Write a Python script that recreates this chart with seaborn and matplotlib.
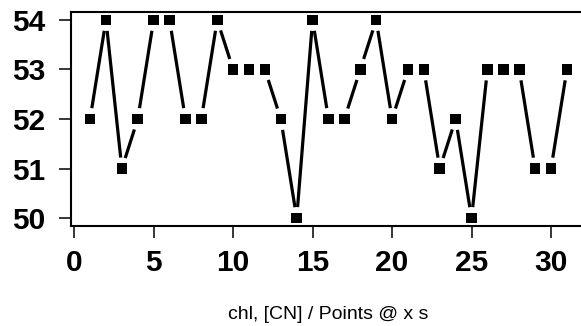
import numpy as np
import pandas as pd
import matplotlib
matplotlib.use("Agg")
import matplotlib.pyplot as plt
import seaborn as sns

# data
x_vals = list(range(1, 32))
y_vals = [52, 54, 51, 52, 54, 54, 52, 52, 54, 53, 53, 53, 52, 50, 54, 52,
          52, 53, 54, 52, 53, 53, 51, 52, 50, 53, 53, 53, 51, 51, 53]
x_ticks = [0, 5, 10, 15, 20, 25, 30]
y_ticks = [50, 51, 52, 53, 54]
x_label = "chl, [CN] / Points @ x s"

sns.set_style("ticks")
plt.rcParams['font.family'] = ['Liberation Sans', 'DejaVu Sans']
plt.rcParams['text.color'] = 'black'
plt.rcParams['axes.labelcolor'] = 'black'
plt.rcParams['xtick.color'] = 'black'
plt.rcParams['ytick.color'] = 'black'

W, H = 581, 326
fig = plt.figure(figsize=(W / 100, H / 100), dpi=100)
ax_top, ax_bot, ax_left, ax_right = 12, 226, 71, 586
ax = fig.add_axes([ax_left / W, (H - ax_bot) / H,
                   (ax_right - ax_left) / W, (ax_bot - ax_top) / H])

xmin, xmax = min(x_vals), max(x_vals)
ymin, ymax = min(y_vals), max(y_vals)
ax.set_xlim(xmin - 0.04 * (xmax - xmin), xmax + 0.04 * (xmax - xmin))
ax.set_ylim(ymin - 0.04 * (ymax - ymin), ymax + 0.04 * (ymax - ymin))

# R type="b": line segments with gaps around points
gap = 11.0  # pixels
fig.canvas.draw()
tr = ax.transData
inv = tr.inverted()
rows = []
pts = tr.transform(np.column_stack([x_vals, y_vals]))
for i in range(len(x_vals) - 1):
    p0, p1 = pts[i], pts[i + 1]
    d = p1 - p0
    L = np.hypot(*d)
    if L <= 2 * gap:
        continue
    u = d / L
    a = inv.transform(p0 + u * gap)
    b = inv.transform(p1 - u * gap)
    rows.append({"seg": i, "x": a[0], "y": a[1]})
    rows.append({"seg": i, "x": b[0], "y": b[1]})
seg_df = pd.DataFrame(rows)

sns.lineplot(data=seg_df, x="x", y="y", units="seg", estimator=None,
             color="black", linewidth=2.3, ax=ax, legend=False,
             solid_capstyle="butt")

pts_df = pd.DataFrame({"x": x_vals, "y": y_vals})
sns.scatterplot(data=pts_df, x="x", y="y", marker="s", s=58, color="black",
                edgecolor="none", linewidth=0, ax=ax, zorder=3)

ax.set_xticks(x_ticks)
ax.set_yticks(y_ticks)
ax.tick_params(axis="both", direction="out", length=8.5, width=1.1,
               labelsize=21.5, color="black", labelcolor="black")
ax.tick_params(axis="x", pad=8)
ax.tick_params(axis="y", pad=10)
for lab in ax.get_xticklabels() + ax.get_yticklabels():
    lab.set_fontweight("bold")
for sp in ax.spines.values():
    sp.set_linewidth(1.5)
    sp.set_color("black")
ax.set_xlabel(x_label, fontsize=14, color="black")
ax.xaxis.set_label_coords(0.5, (ax_bot - 306) / (ax_bot - ax_top))
ax.set_ylabel("")

fig.savefig("out.png", dpi=100)
